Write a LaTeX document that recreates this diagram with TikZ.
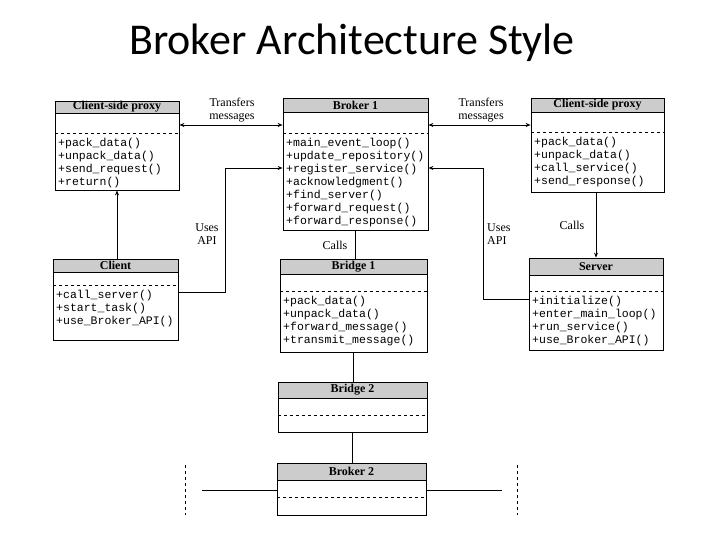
\documentclass[tikz,border=0pt]{standalone}
\usepackage{fontspec}
\setmainfont{Liberation Serif}
\newfontfamily\titlefont{Carlito}
\newfontfamily\monofont{Liberation Mono}
\usetikzlibrary{arrows.meta,fit}
\tikzset{
  hdrfill/.style={fill=gray!40},
  hdrtext/.style={font=\bfseries\fontsize{12}{13}\selectfont, inner sep=0pt},
  methods/.style={font=\monofont\fontsize{11.5}{13}\selectfont, align=left, inner sep=0pt, anchor=north west},
  lbl/.style={font=\fontsize{12}{13}\selectfont, align=center, inner sep=0pt},
  conn/.style={line width=0.8pt},
  tip/.style={-{Stealth[length=5pt,width=4pt]}},
  dtip/.style={{Stealth[length=5pt,width=4pt]}-{Stealth[length=5pt,width=4pt]}},
  cls/.style={draw, line width=0.8pt, inner sep=0pt},
}
% name, x1, y1, x2, y2, yhead, ydiv, title
\newcommand{\umlclass}[8]{%
  \fill[hdrfill] (#2,#3) rectangle (#4,#6);
  \node[cls, fit={(#2,#3) (#4,#5)}] (#1) {};
  \node[hdrtext] (#1-h) at ({(#2+#4)/2},{(#3+#6)/2}) {#8};
  \draw[line width=0.8pt] (#2,#6) -- (#4,#6);
  \draw[line width=0.8pt, dashed] (#2,#7) -- (#4,#7);
}
\begin{document}
\begin{tikzpicture}[x=1pt,y=-1pt]
\useasboundingbox (0,0) rectangle (720,540);
\node[font=\titlefont\fontsize{44}{46}\selectfont, anchor=base, inner sep=0pt] (title) at (352,55) {Broker Architecture Style};

\umlclass{csp}{55}{101}{179}{190}{113}{133}{Client-side proxy}
\node[methods] (csp-m) at (58,138) {+pack\_data()\\+unpack\_data()\\+send\_request()\\+return()};

\umlclass{brk1}{283}{98}{428}{230}{112}{133}{Broker 1}
\node[methods] (brk1-m) at (286,138) {+main\_event\_loop()\\+update\_repository()\\+register\_service()\\+acknowledgment()\\+find\_server()\\+forward\_request()\\+forward\_response()};

\umlclass{ssp}{531}{98}{664}{192}{112}{132}{Client-side proxy}
\node[methods] (ssp-m) at (534,137) {+pack\_data()\\+unpack\_data()\\+call\_service()\\+send\_response()};

\umlclass{cli}{53}{259}{178}{340}{272}{285}{Client}
\node[methods] (cli-m) at (56,290) {+call\_server()\\+start\_task()\\+use\_Broker\_API()};

\umlclass{brg1}{280}{259}{427}{352}{274}{291}{Bridge 1}
\node[methods] (brg1-m) at (283,296) {+pack\_data()\\+unpack\_data()\\+forward\_message()\\+transmit\_message()};

\umlclass{srv}{529}{258}{663}{350}{275}{291}{Server}
\node[methods] (srv-m) at (532,296) {+initialize()\\+enter\_main\_loop()\\+run\_service()\\+use\_Broker\_API()};

\umlclass{brg2}{278}{382}{427}{432}{398}{415}{Bridge 2}
\umlclass{brk2}{277}{463}{426}{515}{480}{497}{Broker 2}

% connectors
\draw[conn, dtip] (csp.east |- 0,125) -- (brk1.west |- 0,125);
\draw[conn, dtip] (brk1.east |- 0,125) -- (ssp.west |- 0,125);
\node[lbl] (l1) at (232,110) {Transfers\\messages};
\node[lbl] (l2) at (481,110) {Transfers\\messages};

\draw[conn, tip] (cli.north -| 117,0) -- (csp.south -| 117,0);

\coordinate (ua1) at (225,292);
\coordinate (ua2) at (225,168);
\draw[conn, tip] (cli.east |- ua1) -- (ua1) -- (ua2) -- (brk1.west |- ua2);
\node[lbl] (l3) at (207,234) {Uses\\API};

\coordinate (ub1) at (483,299);
\coordinate (ub2) at (483,168);
\draw[conn, tip] (srv.west |- ub1) -- (ub1) -- (ub2) -- (brk1.east |- ub2);
\node[lbl, align=left, anchor=west] (l4) at (487,234) {Uses\\API};

\draw[conn, tip] (ssp.south -| 596,0) -- (srv.north -| 596,0);
\node[lbl] (l5) at (572,225) {Calls};

\draw[conn] (brk1.south -| 355,0) -- (brg1.north -| 355,0);
\node[lbl] (l6) at (335,245) {Calls};
\draw[conn] (brg1.south -| 353,0) -- (brg2.north -| 353,0);
\draw[conn] (brg2.south -| 352,0) -- (brk2.north -| 352,0);

\coordinate (bl) at (202,490);
\coordinate (br) at (502,490);
\draw[conn] (bl) -- (brk2.west |- bl);
\draw[conn] (brk2.east |- br) -- (br);
\coordinate (dl1) at (185,465);
\coordinate (dl2) at (185,515);
\coordinate (dr1) at (517,465);
\coordinate (dr2) at (517,515);
\draw[conn, dashed] (dl1) -- (dl2);
\draw[conn, dashed] (dr1) -- (dr2);
\end{tikzpicture}
\end{document}
